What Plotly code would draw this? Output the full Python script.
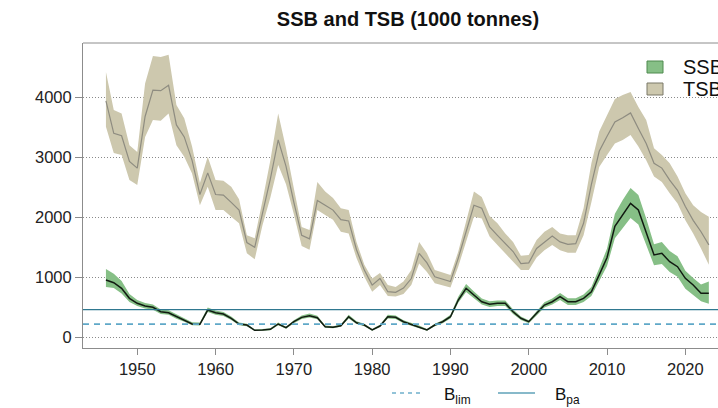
import plotly.graph_objects as go

years = list(range(1946, 2024))

tsb = [3940, 3400, 3360, 2930, 2820, 3680, 4120, 4110, 4200, 3540,
       3340, 2950, 2380, 2740, 2380, 2370, 2250, 2120, 1580, 1500,
       2070, 2640, 3290, 2850, 2250, 1700, 1640, 2280, 2200, 2120,
       1960, 1940, 1460, 1120, 870, 980, 760, 750, 820, 980,
       1400, 1240, 1010, 970, 930, 1320, 1760, 2200, 2150, 1840,
       1700, 1570, 1430, 1230, 1240, 1480, 1590, 1690, 1590, 1550,
       1560, 1900, 2550, 3100, 3350, 3590, 3660, 3740, 3480, 3230,
       2900, 2820, 2620, 2450, 2180, 1950, 1760, 1540]
tsb_low = [3510, 3070, 3040, 2620, 2540, 3340, 3620, 3610, 3730, 3200,
           3010, 2730, 2200, 2510, 2120, 2120, 2010, 1900, 1400, 1300,
           1870, 2330, 2870, 2550, 2050, 1520, 1460, 2120, 2040, 1960,
           1760, 1730, 1320, 1010, 760, 870, 690, 680, 720, 870,
           1230, 1090, 900, 870, 830, 1180, 1590, 2010, 1980, 1680,
           1540, 1400, 1260, 1120, 1120, 1330, 1450, 1540, 1450, 1410,
           1410, 1700, 2250, 2840, 3040, 3230, 3290, 3370, 3180, 2950,
           2680, 2590, 2400, 2230, 1950, 1730, 1480, 1210]
tsb_high = [4420, 3790, 3730, 3200, 3090, 4230, 4690, 4670, 4710, 3870,
            3650, 3180, 2570, 3010, 2620, 2610, 2510, 2300, 1700, 1650,
            2280, 2950, 3730, 3150, 2480, 1840, 1790, 2590, 2430, 2320,
            2150, 2120, 1590, 1210, 980, 1070, 870, 840, 930, 1120,
            1590, 1400, 1120, 1080, 1040, 1430, 1930, 2430, 2340, 2020,
            1900, 1730, 1590, 1360, 1370, 1620, 1760, 1840, 1730, 1700,
            1700, 2150, 2900, 3430, 3700, 3970, 4040, 4090, 3840, 3620,
            3150, 3040, 2900, 2680, 2400, 2200, 2090, 2010]

ssb = [955, 910, 817, 650, 567, 522, 500, 427, 410, 343,
       288, 222, 217, 455, 410, 388, 317, 222, 205, 117,
       122, 133, 222, 160, 260, 333, 360, 327, 177, 167,
       193, 343, 243, 205, 122, 188, 343, 333, 260, 217,
       177, 122, 205, 260, 343, 622, 817, 705, 593, 550,
       567, 567, 427, 317, 260, 400, 538, 593, 677, 593,
       593, 650, 760, 1040, 1330, 1850, 2050, 2233, 2122, 1760,
       1372, 1400, 1260, 1177, 983, 872, 733, 733]
ssb_low = [840, 820, 730, 590, 520, 480, 460, 390, 375, 310,
           260, 200, 195, 420, 375, 355, 290, 200, 185, 105,
           108, 118, 200, 143, 235, 305, 330, 300, 160, 150,
           175, 315, 220, 185, 108, 170, 315, 305, 235, 195,
           158, 108, 185, 235, 315, 575, 755, 650, 545, 505,
           520, 520, 390, 290, 235, 365, 495, 545, 620, 540,
           540, 590, 690, 940, 1190, 1650, 1820, 1990, 1880, 1550,
           1200, 1220, 1090, 1010, 810, 705, 600, 560]
ssb_high = [1140, 1060, 940, 720, 620, 570, 545, 465, 450, 380,
            320, 250, 245, 495, 445, 420, 345, 245, 225, 130,
            138, 150, 245, 178, 285, 365, 395, 360, 195, 185,
            212, 375, 268, 225, 137, 208, 375, 365, 285, 240,
            196, 137, 225, 285, 375, 675, 890, 765, 645, 600,
            615, 615, 465, 345, 285, 435, 585, 645, 740, 650,
            650, 715, 840, 1150, 1480, 2060, 2290, 2490, 2370, 1980,
            1550, 1590, 1440, 1350, 1110, 990, 880, 930]

b_lim = 220
b_pa = 460

x_ticks = [1950, 1960, 1970, 1980, 1990, 2000, 2010, 2020]
y_ticks = [0, 1000, 2000, 3000, 4000]

FONT = "Liberation Sans, Arial, sans-serif"
W, H = 718, 408
L, R, T, B = 83, 718, 43, 348


def px(x):
    return (x - L) / (R - L)


def py(y):
    return (B - y) / (B - T)


fig = go.Figure()

fig.add_trace(go.Scatter(x=years, y=tsb_low, mode="lines", line=dict(width=0),
                         showlegend=False, hoverinfo="skip"))
fig.add_trace(go.Scatter(x=years, y=tsb_high, mode="lines", line=dict(width=0),
                         fill="tonexty", fillcolor="#CDC8AE", showlegend=False,
                         hoverinfo="skip"))
fig.add_trace(go.Scatter(x=years, y=tsb, mode="lines",
                         line=dict(color="#8E8C80", width=1.2), showlegend=False))
fig.add_trace(go.Scatter(x=years, y=ssb_low, mode="lines", line=dict(width=0),
                         showlegend=False, hoverinfo="skip"))
fig.add_trace(go.Scatter(x=years, y=ssb_high, mode="lines", line=dict(width=0),
                         fill="tonexty", fillcolor="#86BF86", showlegend=False,
                         hoverinfo="skip"))
fig.add_trace(go.Scatter(x=years, y=ssb, mode="lines",
                         line=dict(color="#111A11", width=1.5), showlegend=False))

shapes = [
    dict(type="line", xref="paper", yref="y", x0=0, x1=1, y0=b_pa, y1=b_pa,
         line=dict(color="#2F7890", width=1.2), layer="above"),
    dict(type="line", xref="paper", yref="y", x0=0, x1=1, y0=b_lim, y1=b_lim,
         line=dict(color="#5FA8C8", width=1.6, dash="6px,5px"), layer="above"),
    # top border of the box
    dict(type="line", xref="paper", yref="paper", x0=0, x1=1, y0=1, y1=1,
         line=dict(color="#8C8C8C", width=1)),
    # top-right legend keys
    dict(type="rect", xref="paper", yref="paper", x0=px(647), x1=px(663),
         y0=py(73), y1=py(61), fillcolor="#86BF86", line=dict(color="#4E8A4E", width=1)),
    dict(type="rect", xref="paper", yref="paper", x0=px(647), x1=px(663),
         y0=py(95), y1=py(83), fillcolor="#CDC8AE", line=dict(color="#7A7868", width=1)),
    # bottom legend keys
    dict(type="line", xref="paper", yref="paper", x0=px(392), x1=px(424),
         y0=py(393), y1=py(393), line=dict(color="#6FB0CC", width=1.6, dash="4px,4px")),
    dict(type="line", xref="paper", yref="paper", x0=px(498), x1=px(535),
         y0=py(393), y1=py(393), line=dict(color="#5FA2B8", width=1.6)),
]

annotations = [
    dict(text="SSB", xref="paper", yref="paper", x=px(681), y=py(67),
         xanchor="left", yanchor="middle", showarrow=False,
         font=dict(family=FONT, size=20, color="#111")),
    dict(text="TSB", xref="paper", yref="paper", x=px(681), y=py(89),
         xanchor="left", yanchor="middle", showarrow=False,
         font=dict(family=FONT, size=20, color="#111")),
    dict(text="B<sub>lim</sub>", xref="paper", yref="paper", x=px(442), y=py(396),
         xanchor="left", yanchor="middle", showarrow=False,
         font=dict(family=FONT, size=17, color="#111")),
    dict(text="B<sub>pa</sub>", xref="paper", yref="paper", x=px(553), y=py(396),
         xanchor="left", yanchor="middle", showarrow=False,
         font=dict(family=FONT, size=17, color="#111")),
]

fig.update_layout(
    width=W, height=H,
    margin=dict(l=L, r=W - R, t=T, b=H - B, pad=0),
    paper_bgcolor="white", plot_bgcolor="white",
    showlegend=False,
    title=dict(text="<b>SSB and TSB (1000 tonnes)</b>", x=408 / W, xanchor="center",
               y=1 - 19 / H, yanchor="middle", xref="container", yref="container",
               font=dict(family=FONT, size=20, color="#111")),
    font=dict(family=FONT, size=16, color="#222"),
    shapes=shapes,
    annotations=annotations,
    xaxis=dict(range=[1943.07, 2024.17], tickvals=x_ticks,
               ticktext=[str(v) for v in x_ticks],
               showgrid=False, zeroline=False, showline=True, linecolor="#8C8C8C",
               linewidth=1, ticks="outside", ticklen=6, tickcolor="#8C8C8C",
               tickfont=dict(family=FONT, size=16.5, color="#222")),
    yaxis=dict(range=[-178, 4905], tickvals=y_ticks,
               ticktext=[str(v) for v in y_ticks],
               showgrid=True, gridcolor="#8A8A8A", griddash="1px,2px", gridwidth=1,
               zeroline=False, showline=True, linecolor="#8C8C8C", linewidth=1,
               ticks="outside", ticklen=7, tickcolor="#8C8C8C",
               tickfont=dict(family=FONT, size=16.5, color="#222")),
)

fig.write_html(
    "out.html",
    config={"displayModeBar": False},
    post_script="document.body.style.margin='0';document.body.style.overflow='hidden';",
)
